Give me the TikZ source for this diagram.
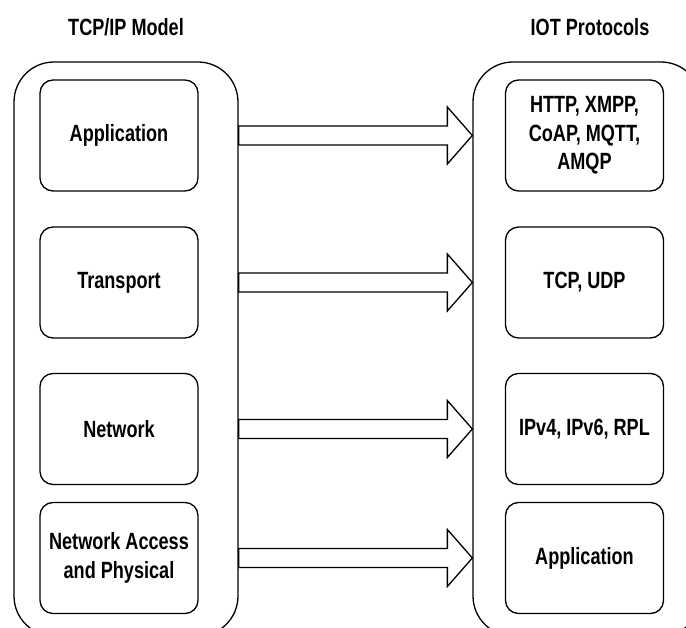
\documentclass[tikz,border=0pt]{standalone}
\usepackage{fontspec}
\setmainfont{Liberation Sans}[FakeStretch=0.77]
\usetikzlibrary{calc}

\newcommand{\lbl}{\fontsize{23.5}{28.5}\selectfont\bfseries}

\tikzset{
  stack/.style={draw, line width=1.3pt, rounded corners=40pt, minimum height=574pt},
  layer/.style={draw, line width=1.3pt, rounded corners=13pt, minimum width=158pt, minimum height=111pt, align=center, font=\lbl},
  heading/.style={font=\lbl},
  fat arrow/.style={draw, line width=1.3pt, fill=white, line join=miter}
}

% hollow block arrow from #1 to #2 (same height)
\newcommand{\fatarrow}[2]{%
  \draw[fat arrow] let \p1=(#1), \p2=(#2) in
    (\x1,\y1+9.5pt) -- (\x2-25pt,\y1+9.5pt) -- (\x2-25pt,\y1+28.5pt) -- (\x2,\y1)
    -- (\x2-25pt,\y1-28.5pt) -- (\x2-25pt,\y1-9.5pt) -- (\x1,\y1-9.5pt) -- cycle;}

\begin{document}
\begin{tikzpicture}[x=1pt, y=-1pt]
  \clip (0,0) rectangle (686,628);

  \node[heading] (tcptitle) at (126,27) {TCP/IP Model};
  \node[heading] (iottitle) at (590,27) {IOT Protocols};

  \node[stack, minimum width=224pt] (tcp) at (126,349) {};
  \node[stack, minimum width=228pt] (iot) at (587,349) {};

  % TCP/IP layers
  \node[layer] (app) at (119,135.5) {Application};
  \node[layer] (trans) at (119,282.5) {Transport};
  \node[layer] (net) at (119,429) {Network};
  \node[layer] (phy) at (119,558) {Network Access\\and Physical};

  % protocols per layer
  \node[layer] (http) at (584.5,135.5) {HTTP, XMPP,\\CoAP, MQTT,\\AMQP};
  \node[layer] (udp) at (584.5,282.5) {TCP, UDP};
  \node[layer] (ipv) at (584.5,429) {IPv4, IPv6, RPL};
  \node[layer] (iotapp) at (584.5,558) {Application};

  \fatarrow{tcp.east |- app.center}{iot.west |- http.center}
  \fatarrow{tcp.east |- trans.center}{iot.west |- udp.center}
  \fatarrow{tcp.east |- net.center}{iot.west |- ipv.center}
  \fatarrow{tcp.east |- phy.center}{iot.west |- iotapp.center}
\end{tikzpicture}
\end{document}
